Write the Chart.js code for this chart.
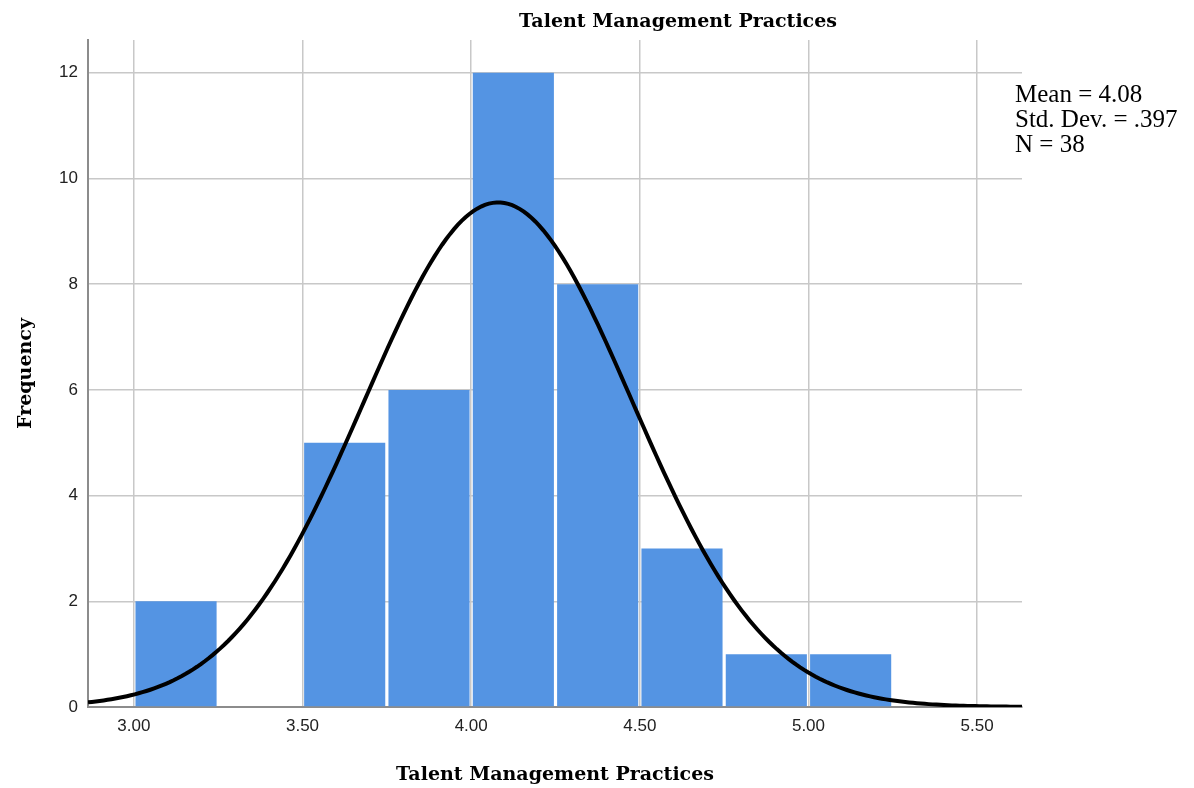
<!DOCTYPE html>
<html>
<head>
<meta charset="utf-8">
<script src="https://cdn.jsdelivr.net/npm/chart.js@4.4.1/dist/chart.umd.min.js"></script>
<style>
  html, body { margin: 0; padding: 0; background: #ffffff; }
  #wrap { width: 1194px; height: 788px; position: relative; }
</style>
</head>
<body>
<div id="wrap"><canvas id="chart" width="1194" height="788"></canvas></div>
<script>
// Histogram bins (lower edge of each 0.25-wide bin) and their counts
const binStarts = [3.00, 3.25, 3.50, 3.75, 4.00, 4.25, 4.50, 4.75, 5.00];
const frequencies = [2, 0, 5, 6, 12, 8, 3, 1, 1];
const binWidth = 0.25;

// Summary statistics shown beside the plot
const statMean = 4.08;
const statStdDev = 0.397;
const statN = 38;

// Axis ticks
const xTickValues = [3.00, 3.50, 4.00, 4.50, 5.00, 5.50];
const yTickValues = [0, 2, 4, 6, 8, 10, 12];

const chartTitle = 'Talent Management Practices';
const xTitle = 'Talent Management Practices';
const yTitle = 'Frequency';

const xMin = 2.864, xMax = 5.633;
const yMax = 12.62;

// Bars sit at the centre of each bin
const barPoints = binStarts.map((b, i) => ({ x: b + binWidth / 2, y: frequencies[i] }));

// Normal curve scaled to counts: N * binWidth * pdf(x)
const curvePoints = [];
const steps = 240;
for (let i = 0; i <= steps; i++) {
  const x = xMin + (xMax - xMin) * i / steps;
  const z = (x - statMean) / statStdDev;
  const y = statN * binWidth * Math.exp(-0.5 * z * z) / (statStdDev * Math.sqrt(2 * Math.PI));
  curvePoints.push({ x, y });
}

const titleFont = '"DejaVu Serif", serif';
const serif = '"Liberation Serif", "Times New Roman", serif';
const sans = '"Liberation Sans", Arial, sans-serif';

const textPlugin = {
  id: 'textPlugin',
  afterDraw(chart) {
    const ctx = chart.ctx;
    const area = chart.chartArea;
    ctx.save();
    ctx.fillStyle = '#000000';
    ctx.textAlign = 'center';
    ctx.textBaseline = 'alphabetic';
    ctx.font = 'bold 19px ' + titleFont;
    ctx.fillText(chartTitle, 678, 27);
    ctx.fillText(xTitle, (area.left + area.right) / 2, 780);
    ctx.save();
    ctx.translate(31, (area.top + area.bottom) / 2);
    ctx.rotate(-Math.PI / 2);
    ctx.fillText(yTitle, 0, 0);
    ctx.restore();
    ctx.textAlign = 'left';
    ctx.font = '25px ' + serif;
    const lines = [
      'Mean = ' + statMean.toFixed(2),
      'Std. Dev. = ' + statStdDev.toFixed(3).replace(/^0/, ''),
      'N = ' + statN
    ];
    lines.forEach((t, i) => ctx.fillText(t, 1015, 102 + i * 25));
    ctx.restore();
  }
};

new Chart(document.getElementById('chart'), {
  data: {
    datasets: [
      {
        type: 'line',
        data: curvePoints,
        borderColor: '#000000',
        borderWidth: 4,
        pointRadius: 0,
        tension: 0,
        fill: false,
        order: 0
      },
      {
        type: 'bar',
        data: barPoints,
        backgroundColor: '#5494e3',
        borderWidth: 0,
        barPercentage: 0.962,
        categoryPercentage: 1,
        grouped: false,
        order: 1
      }
    ]
  },
  options: {
    responsive: false,
    animation: false,
    events: [],
    layout: { padding: { left: 0, right: 172, top: 40, bottom: 0 } },
    plugins: { legend: { display: false }, tooltip: { enabled: false }, title: { display: false } },
    scales: {
      x: {
        type: 'linear',
        min: xMin,
        max: xMax,
        offset: false,
        afterBuildTicks: s => { s.ticks = xTickValues.map(v => ({ value: v })); },
        afterFit: s => { s.height = 81; },
        grid: { color: '#c8c8c8', lineWidth: 1.5, drawTicks: false, offset: false },
        border: { color: '#8c8c8c', width: 2 },
        ticks: {
          padding: 9,
          color: '#222222',
          font: { family: sans, size: 17 },
          maxRotation: 0,
          callback: v => Number(v).toFixed(2)
        }
      },
      y: {
        type: 'linear',
        min: 0,
        max: yMax,
        afterBuildTicks: s => { s.ticks = yTickValues.map(v => ({ value: v })); },
        afterFit: s => { s.width = 88; },
        grid: { color: '#c8c8c8', lineWidth: 1.5, drawTicks: false },
        border: { color: '#8c8c8c', width: 2 },
        ticks: {
          padding: 10,
          color: '#222222',
          font: { family: sans, size: 17 },
          callback: v => String(v)
        }
      }
    }
  },
  plugins: [textPlugin]
});
</script>
</body>
</html>
